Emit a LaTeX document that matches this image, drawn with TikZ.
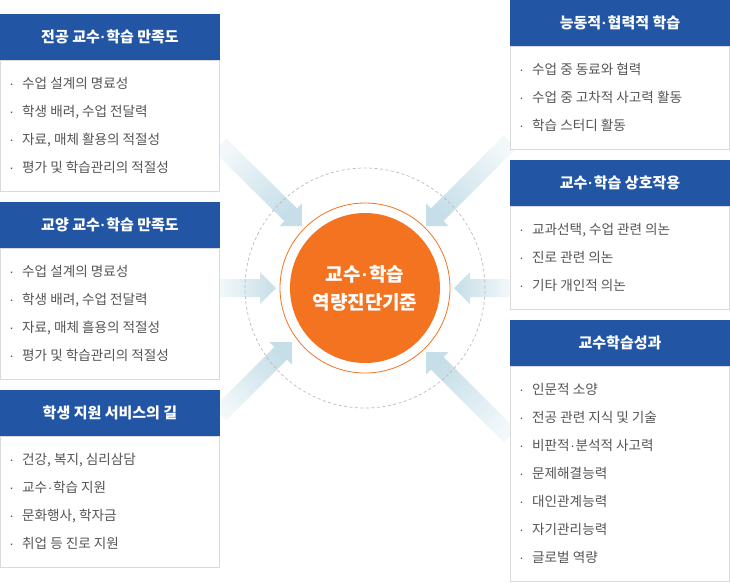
\documentclass[tikz,border=0pt]{standalone}
\usepackage{fontspec}
\setmainfont{Noto Sans CJK KR}
\newfontfamily\dotfont{Liberation Sans}
\usetikzlibrary{calc}
\definecolor{hblue}{HTML}{2256A5}
\definecolor{orng}{HTML}{F37321}
\definecolor{txtgray}{HTML}{555555}
\definecolor{framegray}{HTML}{DADADA}
\definecolor{dashgray}{HTML}{BBBBBB}
\definecolor{arrdark}{HTML}{C5DEE8}
\definecolor{arrlight}{HTML}{F2F8FA}
\newcommand\md{{\dotfont\kern0.05em·\kern0.05em}}
\newcommand\blockarrow[3]{%
  \shade[top color=arrlight, bottom color=arrdark, shading angle=#3]
    ($(#1)!9pt!90:(#2)$) --
    ($($(#2)!16pt!(#1)$)!9pt!-90:(#1)$) --
    ($($(#2)!16pt!(#1)$)!16pt!-90:(#1)$) --
    (#2) --
    ($($(#2)!16pt!(#1)$)!16pt!90:(#1)$) --
    ($($(#2)!16pt!(#1)$)!9pt!90:(#1)$) --
    ($(#1)!9pt!-90:(#2)$) -- cycle;}
\tikzset{
  hdr/.style={fill=hblue, text=white, minimum width=220pt, minimum height=46pt,
    inner sep=0pt, font=\fontsize{15}{17}\selectfont\bfseries},
  frame/.style={draw=framegray, fill=white, line width=0.8pt, minimum width=219pt,
    inner sep=0pt, anchor=north},
  item/.style={anchor=base west, inner sep=0pt, text=txtgray,
    font=\fontsize{13.6}{15}\selectfont},
}
\newcommand\bul{\makebox[13pt][c]{\dotfont ·}\hspace{4pt}}
\begin{document}
\begin{tikzpicture}[x=1pt,y=-1pt]
\useasboundingbox (0,0) rectangle (730,582);
% arrow end points
\coordinate (s1) at (220,145); \coordinate (t1) at (302,226);
\coordinate (s2) at (220,288); \coordinate (t2) at (276,288);
\coordinate (s3) at (220,414); \coordinate (t3) at (292,342);
\coordinate (s4) at (510,142); \coordinate (t4) at (426,226);
\coordinate (s5) at (510,288); \coordinate (t5) at (454,288);
\coordinate (s6) at (510,436); \coordinate (t6) at (426,352);
\blockarrow{s1}{t1}{45}
\blockarrow{s2}{t2}{90}
\blockarrow{s3}{t3}{135}
\blockarrow{s4}{t4}{-45}
\blockarrow{s5}{t5}{-90}
\blockarrow{s6}{t6}{-135}
% centre
\node[circle, draw=dashgray, dash pattern=on 3pt off 2.5pt, line width=0.7pt,
  minimum size=240pt, inner sep=0pt] (dc) at (365,288) {};
\node[circle, draw=orng, line width=0.8pt, fill=white, minimum size=170pt, inner sep=0pt] (ring) at (365,288) {};
\node[circle, fill=orng, minimum size=150pt, inner sep=0pt, text=white, align=center,
  font=\fontsize{19}{28}\selectfont\bfseries] (c) at (365,288) {교수\md 학습\\역량진단기준};
% left boxes
\node[frame, minimum height=131pt] (f1) at (110,60) {};
\node[hdr] (h1) at (110,37) {전공 교수\md 학습 만족도};
\foreach \t [count=\i] in {수업 설계의 명료성, {학생 배려, 수업 전달력}, {자료, 매체 활용의 적절성}, 평가 및 학습관리의 적절성}
  \node[item] (a1-\i) at (5,{88+28*(\i-1)}) {\bul\t};
\node[frame, minimum height=131pt] (f2) at (110,248) {};
\node[hdr] (h2) at (110,225) {교양 교수\md 학습 만족도};
\foreach \t [count=\i] in {수업 설계의 명료성, {학생 배려, 수업 전달력}, {자료, 매체 흘용의 적절성}, 평가 및 학습관리의 적절성}
  \node[item] (a2-\i) at (5,{276+28*(\i-1)}) {\bul\t};
\node[frame, minimum height=131pt] (f3) at (110,436) {};
\node[hdr] (h3) at (110,413) {학생 지원 서비스의 길};
\foreach \t [count=\i] in {{건강, 복지, 심리삼담}, 교수\md 학습 지원, {문화행사, 학자금}, 취업 등 진로 지원}
  \node[item] (a3-\i) at (5,{464+28*(\i-1)}) {\bul\t};
% right boxes
\node[frame, minimum height=103pt] (f4) at (620,46) {};
\node[hdr] (h4) at (620,23) {능동적\md 협력적 학습};
\foreach \t [count=\i] in {수업 중 동료와 협력, 수업 중 고차적 사고력 활동, 학습 스터디 활동}
  \node[item] (b1-\i) at (515,{74+28*(\i-1)}) {\bul\t};
\node[frame, minimum height=103pt] (f5) at (620,206) {};
\node[hdr] (h5) at (620,183) {교수\md 학습 상호작용};
\foreach \t [count=\i] in {{교과선택, 수업 관련 의논}, 진로 관련 의논, 기타 개인적 의논}
  \node[item] (b2-\i) at (515,{234+28*(\i-1)}) {\bul\t};
\node[frame, minimum height=215pt] (f6) at (620,366) {};
\node[hdr] (h6) at (620,343) {교수학습성과};
\foreach \t [count=\i] in {인문적 소양, 전공 관련 지식 및 기술, 비판적\md 분석적 사고력, 문제해결능력, 대인관계능력, 자기관리능력, 글로벌 역량}
  \node[item] (b3-\i) at (515,{394+28*(\i-1)}) {\bul\t};
\end{tikzpicture}
\end{document}
